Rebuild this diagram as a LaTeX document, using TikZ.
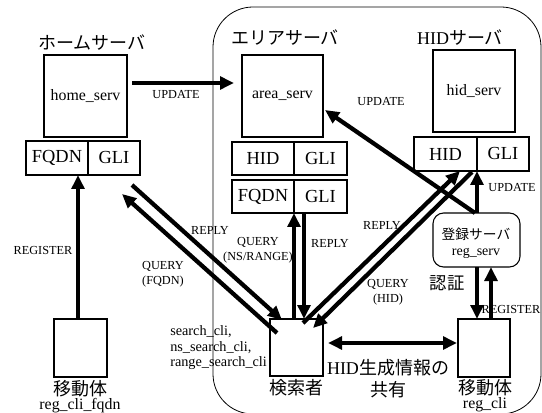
\documentclass[tikz,border=0pt]{standalone}
\usepackage{fontspec}
\setmainfont{Liberation Serif}
\newfontfamily\jp{Noto Sans CJK JP}
\usetikzlibrary{arrows.meta,fit,calc}
\begin{document}
\begin{tikzpicture}[x=0.75pt,y=-0.75pt,
 box/.style={draw,line width=0.8pt,inner sep=0pt,outer sep=0pt},
 cell/.style={box},
 srv/.style={box},
 celltxt/.style={font=\fontsize{13.8}{14}\selectfont,inner sep=0pt},
 lbl/.style={font=\fontsize{9.2}{11}\selectfont,inner sep=0pt,align=center},
 ttl/.style={font=\jp\fontsize{13.5}{15}\selectfont,inner sep=0pt},
 srvname/.style={font=\fontsize{11.9}{13}\selectfont,inner sep=0pt},
 arr/.style={line width=3.2pt,-{Triangle[length=10.5pt,width=9.5pt]}},
 dbl/.style={line width=3.2pt,{Triangle[length=10.5pt,width=9.5pt]}-{Triangle[length=10.5pt,width=9.5pt]}},
]
\useasboundingbox (0,0) rectangle (542,413);
\clip (0,0) rectangle (542,413);
% area region
\draw[line width=0.6pt,rounded corners=30pt] (213,7) rectangle (541,414);

% home server
\node[ttl] (homeT) at (92,43) {ホームサーバ};
\node[srv,fit={(44,55) (127,137)}] (home) {};
\node[srvname] at (home.center) {home\_serv};
\node[cell,fit={(26,141) (88,175)}] (hFQ) {};
\node[celltxt] at (hFQ.center) {FQDN};
\node[cell,fit={(88,141) (140,175)}] (hGL) {};
\node[celltxt] at (hGL.center) {GLI};

% area server
\node[ttl] (areaT) at (285,38) {エリアサーバ};
\node[srv,fit={(242,55) (323,137)}] (area) {};
\node[srvname] at (area.center) {area\_serv};
\node[cell,fit={(232,142) (294,175)}] (aHID) {};
\node[celltxt] at (aHID.center) {HID};
\node[cell,fit={(294,142) (347,175)}] (aGL1) {};
\node[celltxt] at (aGL1.center) {GLI};
\node[cell,fit={(232,180) (294,213)}] (aFQ) {};
\node[celltxt] at (aFQ.center) {FQDN};
\node[cell,fit={(294,180) (347,213)}] (aGL2) {};
\node[celltxt] at (aGL2.center) {GLI};

% HID server
\node[font=\fontsize{13.5}{15}\selectfont,inner sep=0pt] (hidT) at (460,38) {HID{\jp サーバ}};
\node[srv,fit={(433,50) (515,132)}] (hid) {};
\node[srvname] at (hid.center) {hid\_serv};
\node[cell,fit={(414,137) (477,171)}] (hHID) {};
\node[celltxt] at (hHID.center) {HID};
\node[cell,fit={(477,137) (529,171)}] (hGL2) {};
\node[celltxt] at (hGL2.center) {GLI};

% registration server
\node[box,rounded corners=8pt,fit={(433,213) (520,267)}] (reg) {};
\node[font=\jp\fontsize{10.3}{12}\selectfont,inner sep=0pt] at (476,234) {登録サーバ};
\node[font=\fontsize{10.5}{12}\selectfont,inner sep=0pt] at (476,253) {reg\_serv};
\node[font=\jp\fontsize{13}{15}\selectfont,inner sep=0pt] at (447,283) {認証};

% clients
\node[box,fit={(54,319) (107,377)}] (mob) {};
\node[ttl] at (80,389) {移動体};
\node[srvname] at (80,406) {reg\_cli\_fqdn};
\node[box,fit={(270,319) (323,376)}] (srch) {};
\node[ttl] at (296,388) {検索者};
\node[font=\fontsize{10.7}{11.6}\selectfont,inner sep=0pt,align=left,anchor=west] at (170,348) {search\_cli,\\ns\_search\_cli,\\range\_search\_cli};
\node[box,fit={(458,319) (510,377)}] (rcli) {};
\node[ttl] at (485,388) {移動体};
\node[srvname] at (485,405) {reg\_cli};
\node[font=\jp\fontsize{13.5}{16.5}\selectfont,inner sep=0pt,align=center] at (388,379) {{\rmfamily HID}生成情報の\\共有};

% arrows
\draw[arr] ($(home.north east)+(5,28)$) -- ($(area.north west)+(-8,28)$);
\node[lbl] at (176,95) {UPDATE};
\draw[arr] ($(mob.north)+(-2.5,0)$) -- ($(hFQ.south east)+(-10,0)$);
\node[lbl] at (43,250) {REGISTER};

\draw[arr] ($(hGL.south)+(18,10)$) -- ($(srch.north west)+(12,1)$);
\draw[arr] ($(srch.north west)+(7,14)$) -- ($(hGL.south)+(8,19)$);
\node[lbl] at (210,230) {REPLY};
\node[lbl] at (163,274) {QUERY\\(FQDN)};

\draw[arr] ($(srch.north)+(-2.5,0)$) -- (aFQ.south east);
\draw[arr] ($(aGL2.south west)+(10,0)$) -- ($(srch.north)+(7.5,0)$);
\node[lbl] at (258,250) {QUERY\\(NS/RANGE)};
\node[lbl] at (330,243) {REPLY};

\draw[arr] ($(srch.north)+(6.5,4)$) -- ($(hHID.south east)+(-17,0)$);
\draw[arr] ($(hHID.south east)+(-5,1)$) -- ($(srch.north)+(16.5,9)$);
\node[lbl] at (382,225) {REPLY};
\node[lbl] at (388,292) {QUERY\\(HID)};

\draw[arr] ($(reg.north)+(-1.5,0)$) -- ($(area.south east)+(2,-27)$);
\node[lbl] at (381,102) {UPDATE};
\draw[arr] ($(reg.north)+(0.5,0)$) -- (hGL2.south west);
\node[lbl] at (512,188) {UPDATE};
\draw[arr] ($(reg.south)+(0.5,0)$) -- ($(rcli.north)+(-7,0)$);
\draw[arr] ($(rcli.north)+(7,0)$) -- ($(reg.south)+(14.5,0)$);
\node[lbl] at (511,309) {REGISTER};

\draw[dbl] ($(srch.east)+(5,-4.5)$) -- ($(rcli.west)+(-1,-5)$);
\end{tikzpicture}
\end{document}
